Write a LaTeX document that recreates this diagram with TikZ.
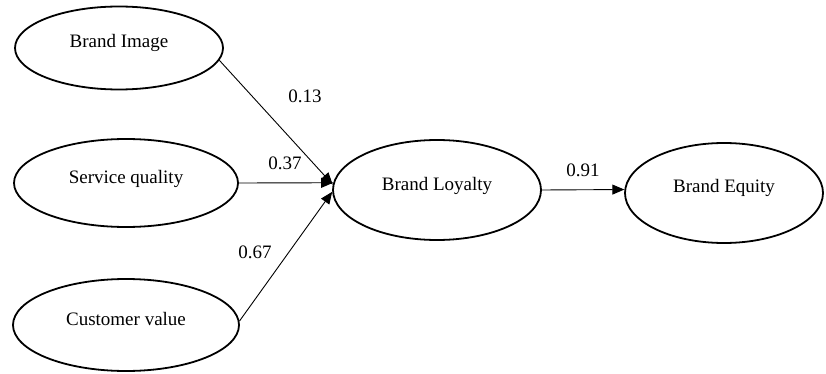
\documentclass[tikz,border=0pt]{standalone}
\usepackage{fontspec}
\setmainfont{Liberation Serif}
\usetikzlibrary{shapes.geometric,arrows.meta}
\begin{document}
\begin{tikzpicture}[x=1pt,y=-1pt,
  construct/.style={draw, ellipse, line width=1.8pt, inner sep=0pt,
    text height=0pt, text depth=0pt, font=\fontsize{19}{22}\selectfont},
  path/.style={line width=0.9pt, -{Triangle[length=12pt,width=10pt]}},
  coef/.style={font=\fontsize{19}{22}\selectfont, inner sep=0pt}]
  \useasboundingbox (0,0) rectangle (826,374);

  % latent constructs
  \node[construct, minimum width=208pt, minimum height=83pt] (img) at (119,48) {Brand Image};
  \node[construct, minimum width=224pt, minimum height=88pt] (svc) at (126,183) {Service quality};
  \node[construct, minimum width=226pt, minimum height=92pt] (val) at (126,325) {Customer value};
  \node[construct, minimum width=208pt, minimum height=100pt] (loy) at (437,190) {Brand Loyalty};
  \node[construct, minimum width=198pt, minimum height=100pt] (eq) at (724,193) {Brand Equity};

  % structural paths (anchor angles are page angles, counter-clockwise)
  \draw[path] (img.-7) -- (loy.177);
  \draw[path] (svc.east) -- (loy.176);
  \draw[path] (val.2) -- (loy.181);
  \draw[path] (loy.east) -- (eq.178);

  % path coefficients
  \node[coef] (c1) at (305,96) {0.13};
  \node[coef] (c2) at (285,163) {0.37};
  \node[coef] (c3) at (255,252) {0.67};
  \node[coef] (c4) at (583,170) {0.91};
\end{tikzpicture}
\end{document}
